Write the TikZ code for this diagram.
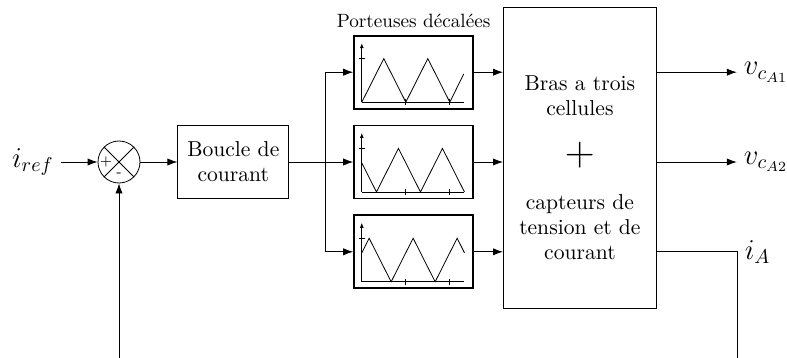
\documentclass[tikz,border=0pt]{standalone}
\usepackage{fontspec}
\usepackage{amsmath}
\usetikzlibrary{positioning,arrows.meta}

\tikzset{
  texte/.style={align=center, font=\fontsize{10.8}{12.5}\selectfont},
  bloc/.style={draw, texte, minimum width=55.5pt, minimum height=36.5pt},
  porteuse/.style={draw, line width=0.9pt, minimum width=59.5pt, minimum height=36.5pt},
  somme/.style={draw, circle, minimum size=21pt, inner sep=0pt},
  fleche/.style={-{Latex[length=5pt,width=3.6pt]}},
  sortie/.style={font=\Large},
  dans/.style={shift={(#1.south west)}, xshift=4.3pt, yshift=3.7pt, x=1pt, y=1pt},
}

\begin{document}
\begin{tikzpicture}
  \useasboundingbox (0,0) rectangle (393.5pt,-179pt);
  \coordinate (bot) at (0,-179pt);
   \node [somme] (s) at (59.5pt,-81pt) {};
    \node [sortie, left=18.5pt of s] (iref) {$i_{ref}$};
  \node [font=\scriptsize] (plus) at ([xshift=-6.5pt]s.center) {+};
  \node [font=\scriptsize] (moins) at ([yshift=-6.5pt]s.center) {-};
  \node [bloc, right=18.5pt of s] (bc) {Boucle de\\courant};
  \coordinate [right=18pt of bc] (split);
  \node [porteuse, right=32pt of bc] (p2) {};
  \node [porteuse, above=7.5pt of p2] (p1) {};
  \node [porteuse, below=7.5pt of p2] (p3) {};
  \node [font=\fontsize{9.6}{11}\selectfont, above=0pt of p1] (titre) {Porteuses décalées};
  \node [draw, minimum width=76.5pt, minimum height=150.5pt, right=14.5pt of p2, yshift=2pt] (bras) {};
  \node [texte] (t1) at ([yshift=-44.25pt]bras.north) {Bras a trois\\cellules};
  \node [font=\huge] (et) at ([yshift=1.25pt]bras.center) {$+$};
  \node [texte] (t2) at ([yshift=-34.75pt]bras.center) {capteurs de\\tension et de\\courant};
  \coordinate (r1) at (bras.east |- p1);
  \coordinate (r2) at (bras.east |- p2);
  \coordinate (r3) at (bras.east |- p3);
  \node [sortie, right=40pt of r1] (v1) {$v_{c_{A1}}$};
  \node [sortie, right=40pt of r2] (v2) {$v_{c_{A2}}$};
  \coordinate [right=40.5pt of r3] (c3);
  \node [sortie, right=0pt of c3] (ia) {$i_A$};

  \draw (s.north west) -- (s.south east) (s.north east) -- (s.south west);
  \draw [fleche] (iref) -- (s);
  \draw [fleche] (s) -- (bc);
  \draw [fleche] (bc) -- (p2);
  \draw [fleche] (split) |- (p1);
  \draw [fleche] (split) |- (p3);
  \draw [fleche] (s |- bot) -- (s);
  \foreach \p in {p1,p2,p3}{
    \draw [fleche] (\p) -- (\p -| bras.west);
    \begin{scope}[dans=\p]
      \draw [-{Latex[length=2.5pt,width=2pt]}] (0,0) -- (0,29.5);
      \draw (0,0) -- (51,0);
      \draw (-1.5,21.8) -- (1.5,21.8) (22,-1.5) -- (22,1.5) (44,-1.5) -- (44,1.5);
    \end{scope}
  }
  \begin{scope}[dans=p1]
    \draw (0,0) -- (11,21.8) -- (22,0) -- (33,21.8) -- (44,0) -- (51,14.2);
  \end{scope}
  \begin{scope}[dans=p2]
    \draw (0,14.5) -- (7.33,0) -- (18.33,21.8) -- (29.33,0) -- (40.33,21.8) -- (51.33,0);
  \end{scope}
  \begin{scope}[dans=p3]
    \draw (0,14.5) -- (3.67,21.8) -- (14.67,0) -- (25.67,21.8) -- (36.67,0) -- (47.67,21.8) -- (51.33,14.5);
  \end{scope}
  \draw [fleche] (r1) -- (v1);
  \draw [fleche] (r2) -- (v2);
  \draw (r3) -- (c3) -- (c3 |- bot);
\end{tikzpicture}
\end{document}
